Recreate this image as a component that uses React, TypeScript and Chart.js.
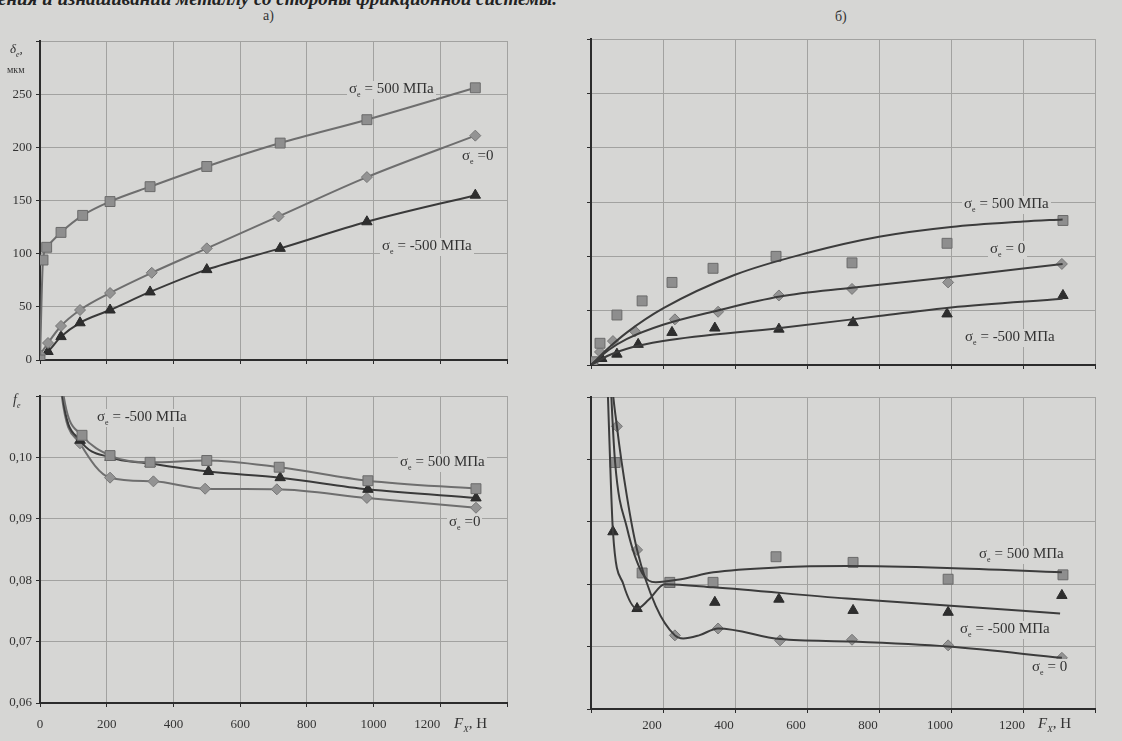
import React, { useEffect, useRef } from "react";
import { Chart, registerables } from "chart.js";
Chart.register(...registerables);

// ---------- Tick labels ----------
const FORCE_TICKS_LEFT = ["0", "200", "400", "600", "800", "1000", "1200\u2003\u2003", ""];
const FORCE_TICKS_RIGHT = ["", "200", "400", "600", "800", "1000", "1200", ""];
const DEFORM_TICKS = ["0", "50", "100", "150", "200", "250", ""];
const FRICTION_TICKS = ["0,06", "0,07", "0,08", "0,09", "0,10", ""];

// ---------- Panel а), top: δe (мкм) vs Fx (Н) ----------
const A_TOP_SQ_X = [0, 9, 20, 63, 128, 210, 330, 500, 720, 980, 1305];
const A_TOP_SQ_Y = [0, 94, 106, 120, 136, 149, 163, 182, 204, 226, 256];
const A_TOP_DI_X = [0, 24, 63, 120, 210, 335, 500, 715, 980, 1305];
const A_TOP_DI_Y = [5, 16, 32, 47, 63, 82, 105, 135, 172, 211];
const A_TOP_TR_X = [0, 24, 63, 120, 210, 330, 500, 720, 980, 1305];
const A_TOP_TR_Y = [3, 8, 22, 35, 47, 64, 85, 105, 130, 155];

// ---------- Panel а), bottom: fe vs Fx ----------
const A_BOT_SQ_X = [20, 63, 126, 210, 330, 500, 717, 983, 1307];
const A_BOT_SQ_Y = [0.16, 0.113, 0.1036, 0.1003, 0.0992, 0.0995, 0.0984, 0.0962, 0.0949];
const A_BOT_TR_X = [20, 63, 120, 210, 330, 505, 720, 983, 1307];
const A_BOT_TR_Y = [0.155, 0.112, 0.1028, 0.1, 0.099, 0.0977, 0.0967, 0.0948, 0.0934];
const A_BOT_DI_X = [20, 63, 120, 210, 340, 495, 710, 980, 1307];
const A_BOT_DI_Y = [0.15, 0.111, 0.1023, 0.0967, 0.0961, 0.0949, 0.0948, 0.0934, 0.0918];

// ---------- Panel б), top: measured points ----------
const B_TOP_SQ_X = [5, 25, 72, 142, 225, 339, 514, 725, 989, 1311];
const B_TOP_SQ_Y = [3, 20, 46, 59, 76, 89, 100, 94, 112, 133];
const B_TOP_DI_X = [5, 25, 61, 122, 233, 353, 522, 725, 992, 1308];
const B_TOP_DI_Y = [2, 12, 22, 31, 42, 49, 64, 70, 76, 93];
const B_TOP_TR_X = [5, 30, 72, 131, 225, 344, 522, 728, 989, 1311];
const B_TOP_TR_Y = [1, 6, 10, 19, 30, 34, 33, 39, 47, 64];
// fitted curves
const B_TOP_SQ_FIT_X = [0, 50, 100, 200, 400, 600, 800, 1000, 1200, 1310];
const B_TOP_SQ_FIT_Y = [0, 16, 30, 52, 83, 103, 118, 127, 132, 134];
const B_TOP_DI_FIT_X = [0, 50, 100, 200, 350, 525, 725, 1000, 1310];
const B_TOP_DI_FIT_Y = [0, 14, 24, 37, 50, 63, 71, 81, 93];
const B_TOP_TR_FIT_X = [0, 50, 100, 200, 525, 800, 1000, 1310];
const B_TOP_TR_FIT_Y = [0, 9, 15, 22, 34, 45, 53, 61];

// ---------- Panel б), bottom: measured points ----------
const B_BOT_SQ_X = [25, 67, 142, 219, 339, 514, 728, 992, 1311];
const B_BOT_SQ_Y = [0.14, 0.0995, 0.0818, 0.0803, 0.0803, 0.0844, 0.0835, 0.0808, 0.0815];
const B_BOT_TR_X = [25, 61, 128, 219, 344, 522, 728, 992, 1308];
const B_BOT_TR_Y = [0.13, 0.0884, 0.0761, 0.08, 0.0771, 0.0776, 0.0758, 0.0755, 0.0782];
const B_BOT_DI_X = [25, 72, 128, 233, 353, 525, 725, 992, 1308];
const B_BOT_DI_Y = [0.15, 0.1053, 0.0855, 0.0718, 0.0729, 0.071, 0.0711, 0.0702, 0.0682];
// fitted curves
const B_BOT_SQ_FIT_X = [30, 55, 67, 100, 142, 180, 250, 340, 525, 711, 989, 1308];
const B_BOT_SQ_FIT_Y = [0.15, 0.112, 0.0995, 0.089, 0.0818, 0.0803, 0.0808, 0.0819, 0.0827, 0.0829, 0.0826, 0.0819];
const B_BOT_TR_FIT_X = [30, 50, 61, 90, 128, 160, 205, 339, 711, 989, 1303];
const B_BOT_TR_FIT_Y = [0.14, 0.105, 0.0884, 0.08, 0.0761, 0.0775, 0.08, 0.0795, 0.0777, 0.0766, 0.0753];
const B_BOT_DI_FIT_X = [30, 55, 72, 100, 128, 180, 233, 256, 300, 353, 525, 725, 992, 1308];
const B_BOT_DI_FIT_Y = [0.15, 0.115, 0.1053, 0.094, 0.0855, 0.0765, 0.0718, 0.0713, 0.0718, 0.0729, 0.0712, 0.0708, 0.07, 0.0682];

// ---------- styles ----------
const BG = "#d6d6d4";
const GRID = "#a2a2a0";
const AXIS = "#2c2c2c";
const TEXT = "#333";
const FONT = "'Liberation Serif', 'DejaVu Serif', serif";

const MARK: Record<string, any> = {
  sq: { pointStyle: "rect", pointRadius: 7, pointBackgroundColor: "#8e8e8e", pointBorderColor: "#6a6a6a" },
  di: { pointStyle: "rectRot", pointRadius: 5.5, pointBackgroundColor: "#939393", pointBorderColor: "#767676" },
  tr: { pointStyle: "triangle", pointRadius: 6, pointBackgroundColor: "#2e2e2e", pointBorderColor: "#2a2a2a" },
};

const pts = (xs: number[], ys: number[]) => xs.map((x, i) => ({ x, y: ys[i] }));

function lineWithMarks(xs: number[], ys: number[], kind: string, color: string) {
  return {
    data: pts(xs, ys),
    showLine: true,
    borderColor: color,
    borderWidth: 2,
    cubicInterpolationMode: "monotone",
    pointBorderWidth: 1,
    ...MARK[kind],
  };
}
function marksOnly(xs: number[], ys: number[], kind: string) {
  return { data: pts(xs, ys), showLine: false, pointBorderWidth: 1, ...MARK[kind] };
}
function curveOnly(xs: number[], ys: number[]) {
  return {
    data: pts(xs, ys),
    showLine: true,
    borderColor: "#3c3c3c",
    borderWidth: 2,
    pointRadius: 0,
    cubicInterpolationMode: "monotone",
  };
}

type PanelCfg = {
  left: number; top: number; width: number; height: number;
  pad: { left: number; right: number; top: number; bottom: number };
  yWidth: number; xHeight: number;
  yMin: number; yMax: number; yStep: number; yLabels: string[] | null;
  xLabels: string[] | null; xLabelOffset: number; xPad: number;
  datasets: any[];
};

function Panel({ cfg }: { cfg: PanelCfg }) {
  const ref = useRef<HTMLCanvasElement | null>(null);
  useEffect(() => {
    if (!ref.current) return;
    const chart = new Chart(ref.current, {
      type: "scatter",
      data: { datasets: cfg.datasets },
      options: {
        animation: false,
        responsive: false,
        maintainAspectRatio: false,
        layout: { padding: cfg.pad },
        plugins: { legend: { display: false }, tooltip: { enabled: false } },
        scales: {
          x: {
            type: "linear",
            min: 0,
            max: 1400,
            afterFit: (s: any) => { s.height = cfg.xHeight; },
            ticks: {
              stepSize: 200,
              autoSkip: false,
              maxRotation: 0,
              display: !!cfg.xLabels,
              padding: cfg.xPad,
              labelOffset: cfg.xLabelOffset,
              color: TEXT,
              font: { family: FONT, size: 13 },
              callback: (_v: any, i: number) => (cfg.xLabels ? cfg.xLabels[i] ?? "" : ""),
            },
            grid: { color: GRID, lineWidth: 1, tickLength: 4, tickColor: AXIS },
            border: { color: AXIS, width: 2 },
          },
          y: {
            type: "linear",
            min: cfg.yMin,
            max: cfg.yMax,
            afterFit: (s: any) => { s.width = cfg.yWidth; },
            ticks: {
              stepSize: cfg.yStep,
              autoSkip: false,
              display: !!cfg.yLabels,
              padding: 4,
              color: TEXT,
              font: { family: FONT, size: 13 },
              callback: (_v: any, i: number) => (cfg.yLabels ? cfg.yLabels[i] ?? "" : ""),
            },
            grid: { color: GRID, lineWidth: 1, tickLength: 4, tickColor: AXIS },
            border: { color: AXIS, width: 2 },
          },
        },
      } as any,
    });
    return () => chart.destroy();
  }, [cfg]);
  return (
    <canvas
      ref={ref}
      width={cfg.width}
      height={cfg.height}
      style={{ position: "absolute", left: cfg.left, top: cfg.top, width: cfg.width, height: cfg.height }}
    />
  );
}

const LINE_LIGHT = "#6e6e6e";
const LINE_DARK = "#3a3a3a";

const PANELS: PanelCfg[] = [
  {
    left: 0, top: 0, width: 550, height: 380,
    pad: { left: 0, right: 43, top: 41, bottom: 0 },
    yWidth: 40, xHeight: 20,
    yMin: 0, yMax: 300, yStep: 50, yLabels: DEFORM_TICKS,
    xLabels: null, xLabelOffset: 0, xPad: 4,
    datasets: [
      lineWithMarks(A_TOP_SQ_X, A_TOP_SQ_Y, "sq", LINE_LIGHT),
      lineWithMarks(A_TOP_DI_X, A_TOP_DI_Y, "di", LINE_LIGHT),
      lineWithMarks(A_TOP_TR_X, A_TOP_TR_Y, "tr", LINE_DARK),
    ],
  },
  {
    left: 0, top: 380, width: 550, height: 361,
    pad: { left: 0, right: 43, top: 16, bottom: 0 },
    yWidth: 40, xHeight: 38,
    yMin: 0.06, yMax: 0.11, yStep: 0.01, yLabels: FRICTION_TICKS,
    xLabels: FORCE_TICKS_LEFT, xLabelOffset: 0, xPad: 10,
    datasets: [
      lineWithMarks(A_BOT_SQ_X, A_BOT_SQ_Y, "sq", LINE_LIGHT),
      lineWithMarks(A_BOT_TR_X, A_BOT_TR_Y, "tr", LINE_DARK),
      lineWithMarks(A_BOT_DI_X, A_BOT_DI_Y, "di", LINE_LIGHT),
    ],
  },
  {
    left: 550, top: 0, width: 572, height: 380,
    pad: { left: 31, right: 27, top: 39, bottom: 0 },
    yWidth: 10, xHeight: 15,
    yMin: 0, yMax: 300, yStep: 50, yLabels: null,
    xLabels: null, xLabelOffset: 0, xPad: 4,
    datasets: [
      curveOnly(B_TOP_SQ_FIT_X, B_TOP_SQ_FIT_Y),
      curveOnly(B_TOP_DI_FIT_X, B_TOP_DI_FIT_Y),
      curveOnly(B_TOP_TR_FIT_X, B_TOP_TR_FIT_Y),
      marksOnly(B_TOP_SQ_X, B_TOP_SQ_Y, "sq"),
      marksOnly(B_TOP_DI_X, B_TOP_DI_Y, "di"),
      marksOnly(B_TOP_TR_X, B_TOP_TR_Y, "tr"),
    ],
  },
  {
    left: 550, top: 380, width: 572, height: 361,
    pad: { left: 31, right: 27, top: 17, bottom: 0 },
    yWidth: 10, xHeight: 32,
    yMin: 0.06, yMax: 0.11, yStep: 0.01, yLabels: null,
    xLabels: FORCE_TICKS_RIGHT, xLabelOffset: -11, xPad: 5,
    datasets: [
      curveOnly(B_BOT_SQ_FIT_X, B_BOT_SQ_FIT_Y),
      curveOnly(B_BOT_TR_FIT_X, B_BOT_TR_FIT_Y),
      curveOnly(B_BOT_DI_FIT_X, B_BOT_DI_FIT_Y),
      marksOnly(B_BOT_SQ_X, B_BOT_SQ_Y, "sq"),
      marksOnly(B_BOT_TR_X, B_BOT_TR_Y, "tr"),
      marksOnly(B_BOT_DI_X, B_BOT_DI_Y, "di"),
    ],
  },
];

const SIGMA_LABELS: { x: number; y: number; v: string; sp: boolean }[] = [
  { x: 347, y: 81, v: "500 МПа", sp: true },
  { x: 460, y: 148, v: "0", sp: false },
  { x: 380, y: 238, v: "-500 МПа", sp: true },
  { x: 95, y: 409, v: "-500 МПа", sp: true },
  { x: 398, y: 454, v: "500 МПа", sp: true },
  { x: 447, y: 514, v: "0", sp: false },
  { x: 962, y: 196, v: "500 МПа", sp: true },
  { x: 988, y: 241, v: "0", sp: true },
  { x: 963, y: 329, v: "-500 МПа", sp: true },
  { x: 977, y: 546, v: "500 МПа", sp: true },
  { x: 958, y: 621, v: "-500 МПа", sp: true },
  { x: 1030, y: 659, v: "0", sp: true },
];

const abs = (x: number, y: number, extra: React.CSSProperties = {}): React.CSSProperties => ({
  position: "absolute",
  left: x,
  top: y,
  whiteSpace: "nowrap",
  fontFamily: FONT,
  color: TEXT,
  lineHeight: 1,
  ...extra,
});

export default function App() {
  return (
    <div style={{ position: "absolute", left: 0, top: 0, width: 1122, height: 741, background: BG, overflow: "hidden" }}>
      <div style={abs(-2, -11, { fontSize: 19, fontWeight: "bold", fontStyle: "italic", color: "#222" })}>
        ения и изнашивании металлу со стороны фрикционной системы.
      </div>
      <div style={abs(263, 9, { fontSize: 14 })}>а)</div>
      <div style={abs(835, 10, { fontSize: 14 })}>б)</div>

      {PANELS.map((p, i) => (
        <Panel key={i} cfg={p} />
      ))}

      <div style={abs(10, 42, { fontSize: 13, fontStyle: "italic" })}>
        δ<sub style={{ fontSize: 8 }}>e</sub>,
      </div>
      <div style={abs(7, 65, { fontSize: 10 })}>мкм</div>
      <div style={abs(13, 393, { fontSize: 14, fontStyle: "italic" })}>
        f<sub style={{ fontSize: 8 }}>e</sub>
      </div>
      <div style={abs(454, 716, { fontSize: 15 })}>
        <i>F</i>
        <sub style={{ fontSize: 9 }}><i>X</i></sub>, Н
      </div>
      <div style={abs(1038, 716, { fontSize: 15 })}>
        <i>F</i>
        <sub style={{ fontSize: 9 }}><i>X</i></sub>, Н
      </div>

      {SIGMA_LABELS.map((l, i) => (
        <div key={i} style={abs(l.x, l.y, { fontSize: 15, background: BG, padding: "0 2px" })}>
          σ<sub style={{ fontSize: 8 }}>e</sub>
          {l.sp ? " = " : " ="}
          {l.v}
        </div>
      ))}
    </div>
  );
}
